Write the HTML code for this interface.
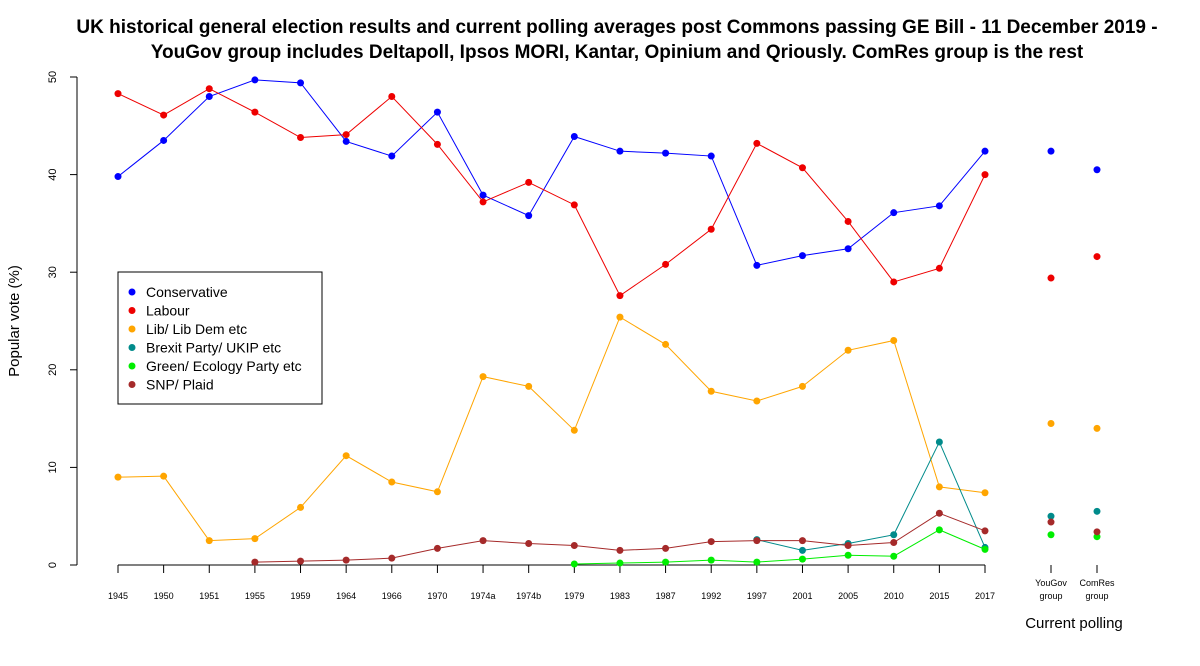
<!DOCTYPE html>
<html><head><meta charset="utf-8"><style>
body{margin:0;background:#fff;font-family:"Liberation Sans",Arial,sans-serif}
svg text{font-family:"Liberation Sans",Arial,sans-serif}
</style></head><body>
<svg id="chart" width="1200" height="661" xmlns="http://www.w3.org/2000/svg">
<text x="617" y="33" text-anchor="middle" font-size="19" font-weight="bold">UK historical general election results and current polling averages post Commons passing GE Bill - 11 December 2019 -</text>
<text x="617" y="58" text-anchor="middle" font-size="19" font-weight="bold">YouGov group includes Deltapoll, Ipsos MORI, Kantar, Opinium and Qriously. ComRes group is the rest</text>
<text transform="translate(19,321) rotate(-90)" text-anchor="middle" font-size="15">Popular vote (%)</text>
<text x="1074" y="628" text-anchor="middle" font-size="15">Current polling</text>
<g id="axes"></g>
<g id="series"></g>
<g>
<rect x="118" y="272" width="204" height="132" fill="#fff" stroke="#000"/>
<g id="legend"></g>
</g>
</svg>
<script>
const years=["1945","1950","1951","1955","1959","1964","1966","1970","1974a","1974b","1979","1983","1987","1992","1997","2001","2005","2010","2015","2017"];
const pollGroups=["YouGov\ngroup","ComRes\ngroup"];
const yTicks=[0,10,20,30,40,50];
const partyNames=["Conservative","Labour","Lib/ Lib Dem etc","Brexit Party/ UKIP etc","Green/ Ecology Party etc","SNP/ Plaid"];
const partyColors=["#0000ff","#ee0000","#ffa500","#008b8b","#00ee00","#a52a2a"];
const con=[39.8,43.5,48.0,49.7,49.4,43.4,41.9,46.4,37.9,35.8,43.9,42.4,42.2,41.9,30.7,31.7,32.4,36.1,36.8,42.4];
const lab=[48.3,46.1,48.8,46.4,43.8,44.1,48.0,43.1,37.2,39.2,36.9,27.6,30.8,34.4,43.2,40.7,35.2,29.0,30.4,40.0];
const lib=[9.0,9.1,2.5,2.7,5.9,11.2,8.5,7.5,19.3,18.3,13.8,25.4,22.6,17.8,16.8,18.3,22.0,23.0,8.0,7.4];
const brexit=[null,null,null,null,null,null,null,null,null,null,null,null,null,null,2.6,1.5,2.2,3.1,12.6,1.8];
const green=[null,null,null,null,null,null,null,null,null,null,0.1,0.2,0.3,0.5,0.3,0.6,1.0,0.9,3.6,1.6];
const snp=[null,null,null,0.3,0.4,0.5,0.7,1.7,2.5,2.2,2.0,1.5,1.7,2.4,2.5,2.5,2.0,2.3,5.3,3.5];
const pollYouGov=[42.4,29.4,14.5,5.0,3.1,4.4];
const pollComRes=[40.5,31.6,14.0,5.5,2.9,3.4];
const NS="http://www.w3.org/2000/svg";
const X0=118,X1=985,Y0=565,Y50=77;
const xs=i=>X0+i*(X1-X0)/(years.length-1);
const px=i=>1051+i*46;
const ys=v=>Y0-v*(Y0-Y50)/50;
function mk(t,a,p){const e=document.createElementNS(NS,t);for(const k in a)e.setAttribute(k,a[k]);p.appendChild(e);return e;}
const ax=document.getElementById('axes');
const yl=mk('line',{x1:77,y1:ys(0),x2:77,y2:ys(50),stroke:'#000'},ax);


yTicks.forEach(v=>{mk('line',{x1:70,x2:77,y1:ys(v),y2:ys(v),stroke:'#000'},ax);
 const t=mk('text',{transform:`translate(56,${ys(v)}) rotate(-90)`,'text-anchor':'middle','font-size':11},ax);t.textContent=v;
 
 });
const xl=mk('line',{x1:xs(0),x2:xs(years.length-1),y1:Y0,y2:Y0,stroke:'#000'},ax);


years.forEach((y,i)=>{mk('line',{x1:xs(i),x2:xs(i),y1:Y0,y2:Y0+8,stroke:'#000'},ax);
 const t=mk('text',{x:xs(i),y:599,'text-anchor':'middle','font-size':9},ax);t.textContent=y;
 
 });
pollGroups.forEach((g,i)=>{mk('line',{x1:px(i),x2:px(i),y1:Y0,y2:Y0+8,stroke:'#000'},ax);
 g.split('\n').forEach((s,j)=>{const t=mk('text',{x:px(i),y:586+j*13,'text-anchor':'middle','font-size':9},ax);t.textContent=s;
 
 });});
const se=document.getElementById('series');
[con,lab,lib,brexit,green,snp].forEach((arr,k)=>{
 const g=mk('g',{},se);
 
 
 const pts=[];arr.forEach((v,i)=>{if(v!==null)pts.push(xs(i)+','+ys(v));});
 mk('polyline',{points:pts.join(' '),fill:'none',stroke:partyColors[k],'stroke-width':1},g);
 arr.forEach((v,i)=>{if(v!==null){const c=mk('circle',{cx:xs(i),cy:ys(v),r:3.5,fill:partyColors[k]},g);
  
  }});
 [pollYouGov,pollComRes].forEach((p,i)=>{const c=mk('circle',{cx:px(i),cy:ys(p[k]),r:3.5,fill:partyColors[k]},g);
  
  });
});
const lg=document.getElementById('legend');
partyNames.forEach((n,i)=>{const y=293+i*18.5;
 mk('circle',{cx:132,cy:y-1,r:3.5,fill:partyColors[i]},lg);
 const t=mk('text',{x:146,y:y+4,'font-size':14},lg);t.textContent=n;
 
 });
</script>
</body></html>
